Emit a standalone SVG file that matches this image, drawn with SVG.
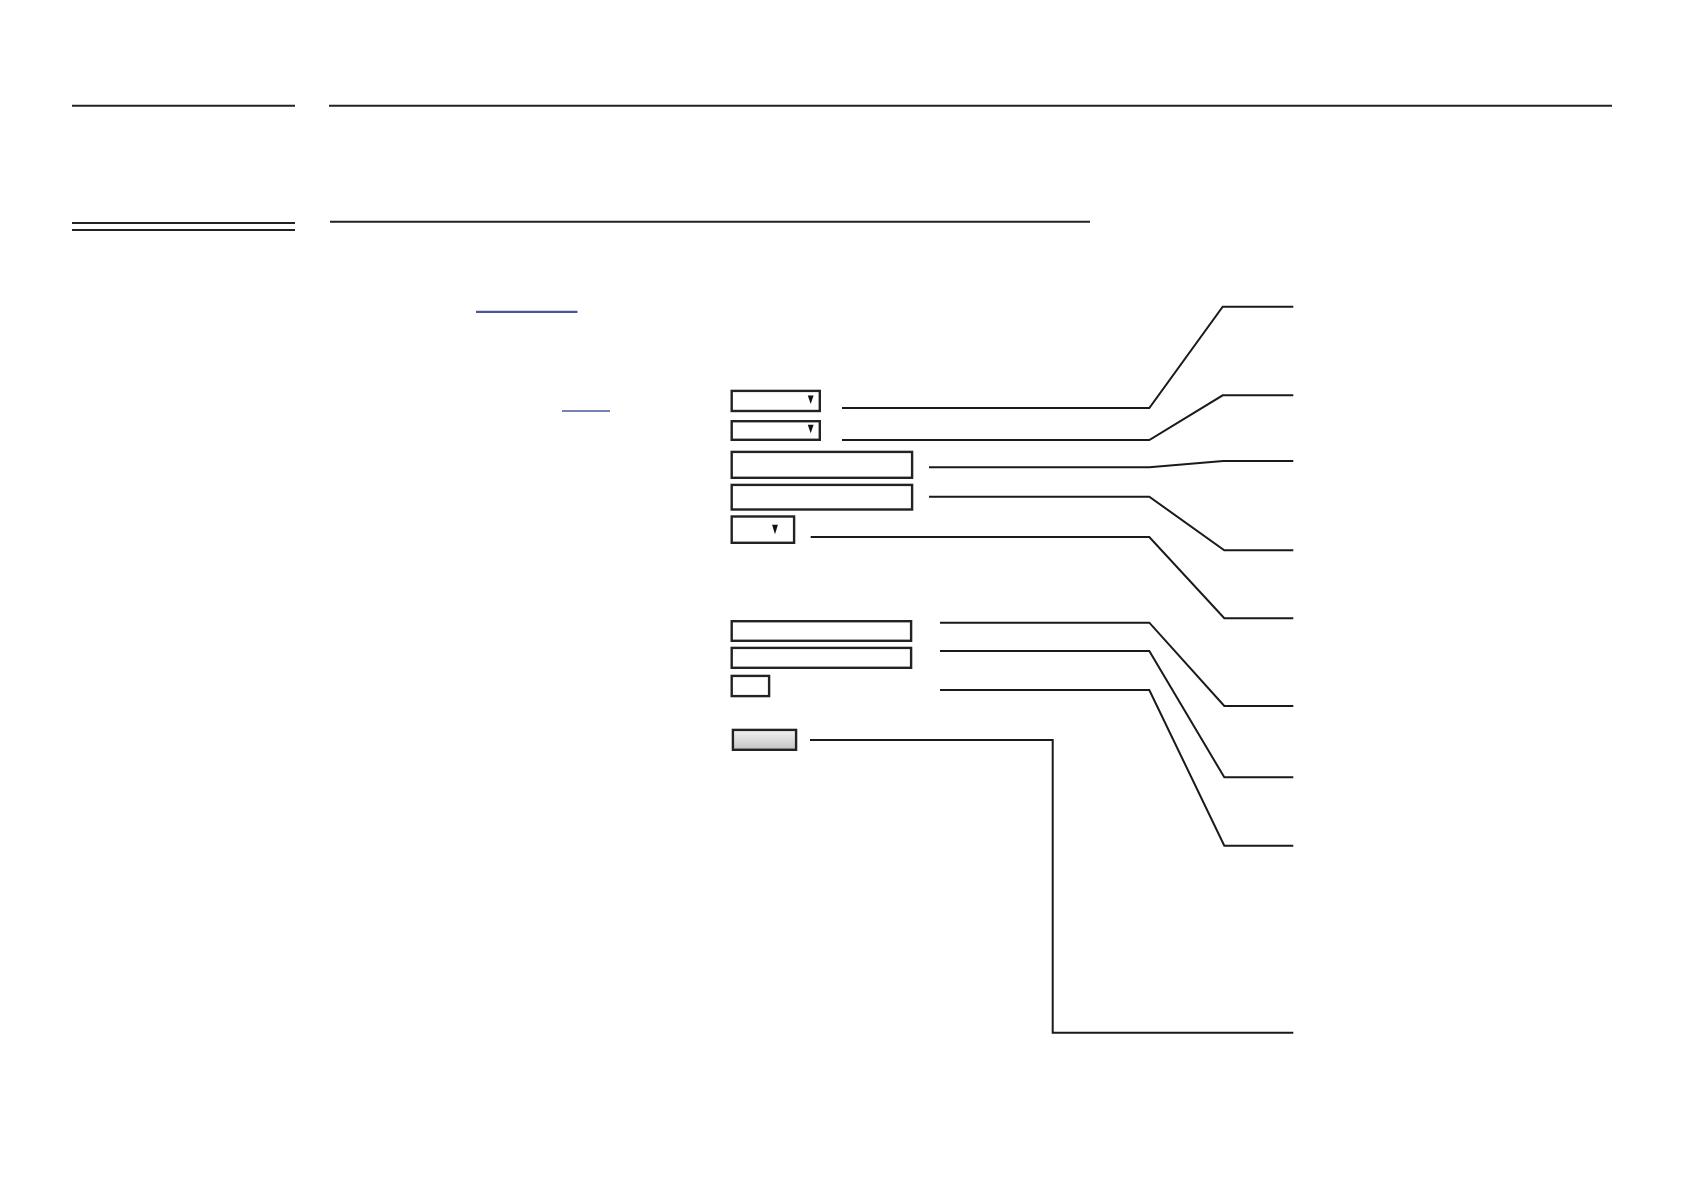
<svg xmlns="http://www.w3.org/2000/svg" width="1685" height="1191" viewBox="0 0 1685 1191">
  <style>
    .rule { stroke: #222; stroke-width: 2; fill: none; }
    .box { stroke: #222; stroke-width: 2.4; fill: #fff; }
    .btn { stroke: #222; stroke-width: 2.4; fill: url(#btnGrad); }
    .arrow { fill: #111; }
    .conn { stroke: #1a1a1a; stroke-width: 2; fill: none; stroke-linejoin: miter; }
  </style>
  <defs>
    <linearGradient id="btnGrad" x1="0" y1="0" x2="0" y2="1">
      <stop offset="0" stop-color="#f2f2f2"/>
      <stop offset="1" stop-color="#c4c4c4"/>
    </linearGradient>
  </defs>
  <rect width="1685" height="1191" fill="#fff"/>

  <g id="header-rules">
    <line class="rule" x1="72" y1="105.7" x2="295" y2="105.7"/>
    <line class="rule" x1="329" y1="105.7" x2="1612" y2="105.7"/>
    <line class="rule" x1="72" y1="223" x2="295" y2="223"/>
    <line class="rule" x1="72" y1="230" x2="295" y2="230"/>
    <line class="rule" x1="330" y1="221.7" x2="1090" y2="221.7"/>
  </g>

  <g id="links">
    <line stroke="#4a5799" stroke-width="2.3" x1="476" y1="311.8" x2="577.5" y2="311.8"/>
    <line stroke="#4a5799" stroke-width="1.3" x1="562" y1="411" x2="610" y2="411"/>
  </g>

  <g id="node-select1">
    <rect class="box" x="731.7" y="390.9" width="88.1" height="20.1"/>
    <polygon class="arrow" points="807.8,395.5 813.6,395.5 810.7,404"/>
  </g>
  <g id="node-select2">
    <rect class="box" x="731.7" y="421.2" width="88.1" height="18.6"/>
    <polygon class="arrow" points="807.8,424.8 813.6,424.8 810.7,433.3"/>
  </g>
  <g id="node-input1">
    <rect class="box" x="731.7" y="451.9" width="180.4" height="25.9"/>
  </g>
  <g id="node-input2">
    <rect class="box" x="731.7" y="484.9" width="180.4" height="24.6"/>
  </g>
  <g id="node-select3">
    <rect class="box" x="731.7" y="516.5" width="62.4" height="26.3"/>
    <polygon class="arrow" points="772.1,524.8 777.9,524.8 775,534.3"/>
  </g>
  <g id="node-input3">
    <rect class="box" x="731.7" y="621.2" width="179.4" height="19.6"/>
  </g>
  <g id="node-input4">
    <rect class="box" x="731.7" y="647.9" width="179.4" height="19.9"/>
  </g>
  <g id="node-input5">
    <rect class="box" x="731.7" y="675.9" width="37.4" height="20.2"/>
  </g>
  <g id="node-button">
    <rect class="btn" x="732.9" y="729.9" width="63.2" height="19.9"/>
  </g>

  <g id="connectors">
    <path class="conn" d="M842,408 H1149.3 L1222.7,306.7 H1293.3"/>
    <path class="conn" d="M842,440 H1149.3 L1222.7,395.3 H1293.3"/>
    <path class="conn" d="M929,467.3 H1149.3 L1223.3,461 H1293.3"/>
    <path class="conn" d="M929,496.7 H1149.3 L1224.3,550.3 H1293.3"/>
    <path class="conn" d="M810.7,537 H1149.3 L1224.3,618.3 H1293.3"/>
    <path class="conn" d="M940,622.7 H1149.3 L1224.3,706 H1293.3"/>
    <path class="conn" d="M940,651 H1149.3 L1224.3,777.3 H1293.3"/>
    <path class="conn" d="M940,690 H1149.3 L1224.3,845.7 H1293.3"/>
    <path class="conn" d="M810,740 H1052.7 V1032.7 H1293.3"/>
  </g>
</svg>
